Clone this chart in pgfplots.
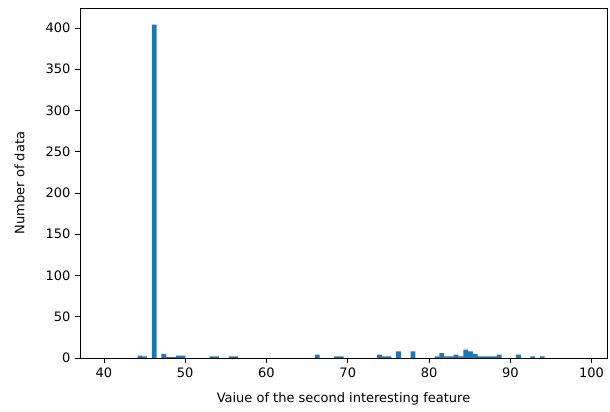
\documentclass[border=0pt]{standalone}
\usepackage{fontspec}
\setmainfont{DejaVu Sans}
\usepackage{pgfplots}
\pgfplotsset{compat=1.18}
\definecolor{mplblue}{HTML}{1F77B4}
\begin{document}
\begin{tikzpicture}
\begin{axis}[
  scale only axis,
  width=395.25pt, height=262.5pt,
  xmin=37.05, xmax=101.9, ymin=0, ymax=424.2,
  xtick={40,50,...,100}, ytick={0,50,...,400},
  tick align=outside, xtick pos=bottom, ytick pos=left,
  major tick length=3.6pt,
  axis line style={line width=0.6pt, black},
  every tick/.style={black, line width=0.6pt},
  tick label style={font=\fontsize{9.75}{11}\selectfont, black},
  label style={font=\fontsize{9.75}{11}\selectfont, black},
  /pgf/number format/assume math mode=true,
  xticklabel style={yshift=-0.5pt},
  xlabel={Vaiue of the second interesting feature},
  ylabel={Number of data},
  xlabel style={yshift=-4pt},
  ylabel style={yshift=9pt},
]
\addplot[ybar, bar width=0.5895, bar shift=0pt, fill=mplblue, draw=none] coordinates {
(44.4213,3)
(45.0108,2)
(46.1898,404)
(47.3688,5)
(47.9583,1)
(48.5478,1)
(49.1373,3)
(49.7268,3)
(53.2638,2)
(53.8533,2)
(55.6218,2)
(56.2113,2)
(66.2328,4)
(68.5908,2)
(69.1803,2)
(73.8963,4)
(74.4858,2)
(75.0753,2)
(76.2543,8)
(78.0228,8)
(80.9703,2)
(81.5598,6)
(82.1493,2)
(82.7388,2)
(83.3283,4)
(83.9178,2)
(84.5073,10)
(85.0968,8)
(85.6863,5)
(86.2758,2)
(86.8653,2)
(87.4548,2)
(88.0443,2)
(88.6338,4)
(90.9918,4)
(92.7603,2)
(93.9393,2)
};
\end{axis}
\pgfresetboundingbox
\path[use as bounding box] ([xshift=-60pt,yshift=-40.5pt]current axis.south west) rectangle ([xshift=2.25pt,yshift=6pt]current axis.north east);
\end{tikzpicture}
\end{document}
